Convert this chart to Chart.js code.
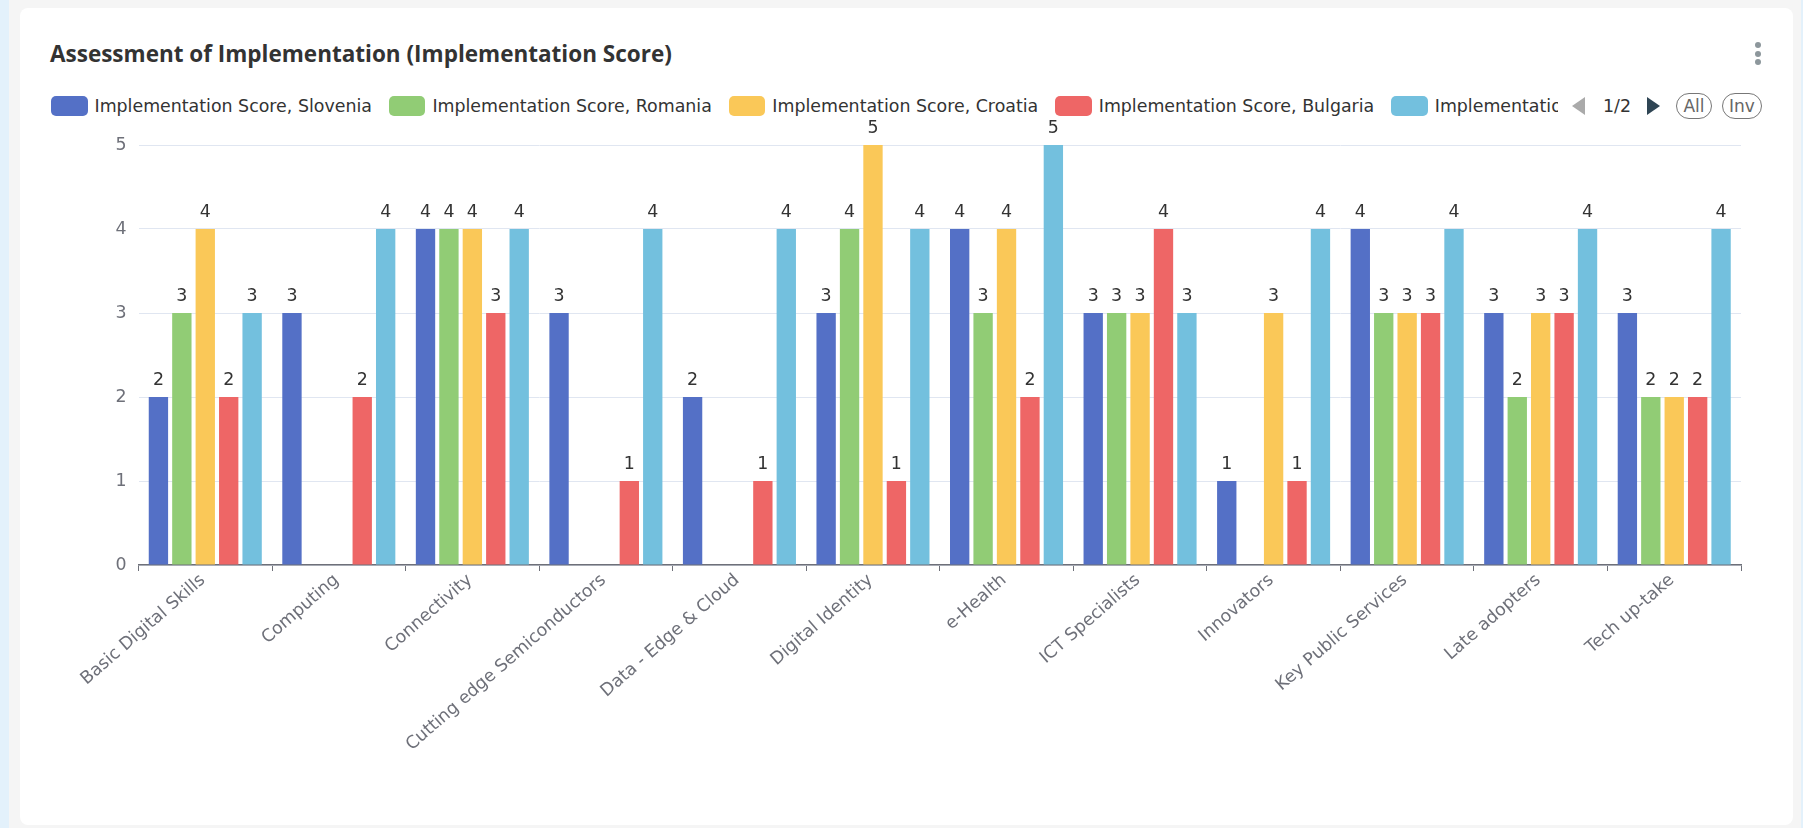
<!DOCTYPE html>
<html>
<head>
<meta charset="utf-8">
<script src="https://cdn.jsdelivr.net/npm/chart.js@4.4.1/dist/chart.umd.min.js"></script>
<style>
  html, body { margin: 0; padding: 0; }
  body { width: 1803px; height: 828px; background: #e3f1fb; position: relative; overflow: hidden; font-family: "DejaVu Sans", sans-serif; }
  .page { position: absolute; left: 9px; top: 0; width: 1792px; height: 828px; background: #f5f5f5; }
  .card { position: absolute; left: 20px; top: 8px; width: 1773px; height: 817px; background: #fff; border-radius: 8px; }
  .title { position: absolute; left: 50px; top: 42px; font: 700 22.5px "Open Sans", sans-serif; line-height: 24px; color: #333; white-space: nowrap; }
  .menu { position: absolute; left: 1755px; top: 42px; width: 6px; }
  .menu i { display: block; width: 6px; height: 6px; border-radius: 50%; background: #8d979c; margin-bottom: 2.7px; }
  .legend { position: absolute; left: 51px; top: 93px; width: 1507px; height: 26px; overflow: hidden; white-space: nowrap; display: flex; align-items: center; }
  .legend .item { display: flex; align-items: center; margin-right: 17px; flex: none; }
  .legend .swatch { width: 36.5px; height: 20.3px; border-radius: 5px; margin-right: 7px; }
  .legend span { font-size: 17.4px; color: #333; }
  .pager { position: absolute; top: 93px; height: 26px; display: flex; align-items: center; font-size: 17.4px; }
  .pill { position: absolute; top: 93px; border: 1.3px solid #777; border-radius: 13px; color: #666; font-size: 17px; display: flex; align-items: center; justify-content: center; box-sizing: border-box; height: 26px; }
  .wrap { position: absolute; left: 20px; top: 120px; width: 1773px; height: 700px; }
</style>
</head>
<body>
<div class="page"></div>
<div class="card"></div>
<div class="title">Assessment of Implementation (Implementation Score)</div>
<div class="menu"><i></i><i></i><i></i></div>
<div class="legend" id="legend"></div>
<svg style="position:absolute;left:1572px;top:97px" width="14" height="18"><polygon points="13,0 13,18 0,9" fill="#aaa"/></svg>
<div class="pager" style="left:1603px;color:#333">1/2</div>
<svg style="position:absolute;left:1647px;top:97px" width="14" height="18"><polygon points="0,0 0,18 13,9" fill="#2f4554"/></svg>
<div class="pill" style="left:1676px;width:36px">All</div>
<div class="pill" style="left:1722px;width:40px">Inv</div>
<div class="wrap"><canvas id="chart"></canvas></div>
<script>
const categories = [
  "Basic Digital Skills", "Computing", "Connectivity", "Cutting edge Semiconductors",
  "Data - Edge & Cloud", "Digital Identity", "e-Health", "ICT Specialists",
  "Innovators", "Key Public Services", "Late adopters", "Tech up-take"
];
const seriesNames = [
  "Implementation Score, Slovenia",
  "Implementation Score, Romania",
  "Implementation Score, Croatia",
  "Implementation Score, Bulgaria",
  "Implementation Score, Serbia"
];
const slovenia = [2, 3, 4, 3, 2, 3, 4, 3, 1, 4, 3, 3];
const romania = [3, null, 4, null, null, 4, 3, 3, null, 3, 2, 2];
const croatia = [4, null, 4, null, null, 5, 4, 3, 3, 3, 3, 2];
const bulgaria = [2, 2, 3, 1, 1, 1, 2, 4, 1, 3, 3, 2];
const serbia = [3, 4, 4, 4, 4, 4, 5, 3, 4, 4, 4, 4];
const yTicks = [0, 1, 2, 3, 4, 5];
const colors = ["#5470c6", "#91cc75", "#fac858", "#ee6666", "#73c0de"];
const seriesValues = [slovenia, romania, croatia, bulgaria, serbia];

const legend = document.getElementById("legend");
seriesNames.forEach((name, i) => {
  const item = document.createElement("div");
  item.className = "item";
  item.innerHTML = `<div class="swatch" style="background:${colors[i]}"></div><span>${name}</span>`;
  legend.appendChild(item);
});

// value labels above each bar, like echarts label position "top"
const barLabels = {
  id: "barLabels",
  afterDatasetsDraw(chart) {
    const { ctx } = chart;
    ctx.save();
    ctx.font = "17.4px 'DejaVu Sans'";
    ctx.fillStyle = "#333";
    ctx.textAlign = "center";
    ctx.textBaseline = "alphabetic";
    chart.data.datasets.forEach((ds, i) => {
      chart.getDatasetMeta(i).data.forEach((bar, j) => {
        const v = ds.data[j];
        if (v === null) return;
        ctx.fillText(String(v), bar.x, bar.y - 12);
      });
    });
    ctx.restore();
  }
};

Chart.defaults.font.family = "'DejaVu Sans', sans-serif";

new Chart(document.getElementById("chart"), {
  type: "bar",
  data: {
    labels: categories,
    datasets: seriesNames.map((name, i) => ({
      label: name,
      data: seriesValues[i],
      backgroundColor: colors[i],
      categoryPercentage: 0.877,
      barPercentage: 0.826
    }))
  },
  options: {
    responsive: true,
    maintainAspectRatio: false,
    animation: false,
    layout: { padding: { top: 25, right: 52, left: 0, bottom: 0 } },
    plugins: {
      legend: { display: false },
      tooltip: { enabled: false }
    },
    scales: {
      x: {
        afterFit: (scale) => { scale.height = 255; },
        border: { color: "#6e7079", width: 1.5 },
        grid: { drawOnChartArea: false, drawTicks: true, tickLength: 6, tickColor: "#6e7079", offset: true },
        ticks: { color: "#6e7079", font: { size: 17.4 }, minRotation: 41, maxRotation: 41, autoSkip: false, padding: -1, labelOffset: -2.3 }
      },
      y: {
        min: 0,
        max: 5,
        afterFit: (scale) => { scale.width = 118.5; },
        afterBuildTicks: (scale) => { scale.ticks = yTicks.map((v) => ({ value: v })); },
        border: { display: false },
        grid: { color: "#e0e6f1", drawTicks: false },
        ticks: { color: "#6e7079", font: { size: 17.4 }, padding: 12 }
      }
    }
  },
  plugins: [barLabels]
});
</script>
</body>
</html>
